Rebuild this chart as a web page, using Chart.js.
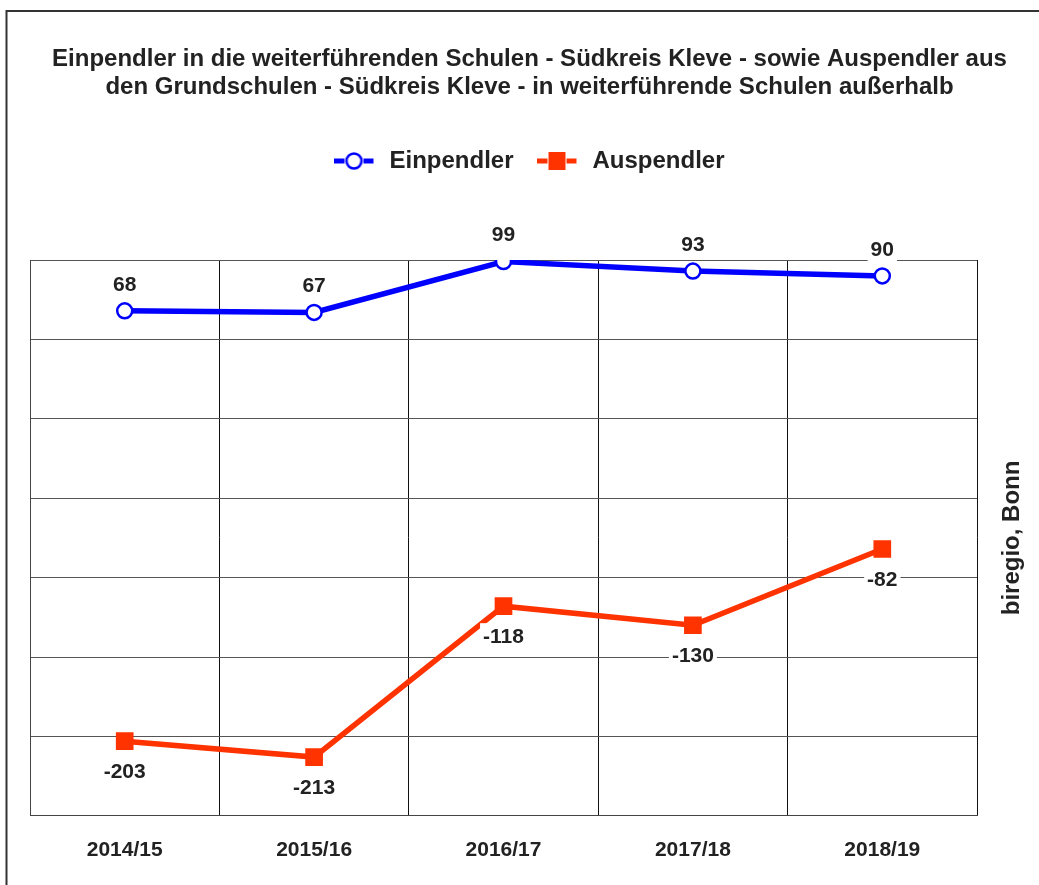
<!DOCTYPE html>
<html>
<head>
<meta charset="utf-8">
<title>Ein- und Auspendler Südkreis Kleve</title>
<script src="https://cdn.jsdelivr.net/npm/chart.js@4.4.1/dist/chart.umd.min.js"></script>
<style>
    html, body { margin: 0; padding: 0; background: #fff; }
    #diagramm { display: block; }
</style>
</head>
<body>
<canvas id="diagramm" width="1039" height="885"></canvas>
<script>
        // ============ DATEN ============
        const schuljahre = ['2014/15', '2015/16', '2016/17', '2017/18', '2018/19'];
        const einpendler = [68, 67, 99, 93, 90];
        const auspendler = [-203, -213, -118, -130, -82];

        const titelZeilen = [
            'Einpendler in die weiterführenden Schulen - Südkreis Kleve - sowie Auspendler aus',
            'den Grundschulen - Südkreis Kleve - in weiterführende Schulen außerhalb'
        ];
        const quelle = 'biregio, Bonn';

        const SCHRIFT = '"Liberation Sans", Arial, Helvetica, sans-serif';
        const BLAU = '#0000ff';
        const ROT = '#ff3300';
        const TEXT = '#222222';

        // ============ LEGENDEN-SYMBOLE (Linie + Marker) ============
        function legendenSymbol(farbe, form) {
            const c = document.createElement('canvas');
            c.width = 43;
            c.height = 20;
            const g = c.getContext('2d');
            g.strokeStyle = farbe;
            g.lineWidth = 5;
            g.beginPath();
            g.moveTo(0, 10); g.lineTo(10, 10);
            g.moveTo(29, 10); g.lineTo(39, 10);
            g.stroke();
            if (form === 'kreis') {
                g.fillStyle = '#fff';
                g.lineWidth = 2.5;
                g.beginPath();
                g.arc(19.5, 10, 7.5, 0, Math.PI * 2);
                g.fill();
                g.stroke();
            } else {
                g.fillStyle = farbe;
                g.fillRect(11, 1, 17, 18);
            }
            return c;
        }
        const symbole = [legendenSymbol(BLAU, 'kreis'), legendenSymbol(ROT, 'quadrat')];

        // ============ PLUGINS ============
        // Rahmen oben und links
        const rahmen = {
            id: 'rahmen',
            beforeDraw(chart) {
                const ctx = chart.ctx;
                ctx.save();
                ctx.fillStyle = '#fff';
                ctx.fillRect(0, 0, chart.width, chart.height);
                ctx.strokeStyle = '#333';
                ctx.lineWidth = 2;
                ctx.beginPath();
                ctx.moveTo(6.5, chart.height);
                ctx.lineTo(6.5, 11);
                ctx.lineTo(chart.width, 11);
                ctx.stroke();
                ctx.restore();
            }
        };

        // mehr Luft zwischen Legende und Diagrammfläche
        const legendenAbstand = {
            id: 'legendenAbstand',
            beforeInit(chart) {
                const fitOrig = chart.legend.fit;
                chart.legend.fit = function fit() {
                    fitOrig.bind(chart.legend)();
                    this.height += 77;
                };
            }
        };

        // Werte an den Punkten, mit weißem Hintergrund
        const wertLabels = {
            id: 'wertLabels',
            afterDatasetsDraw(chart) {
                const ctx = chart.ctx;
                ctx.save();
                ctx.font = 'bold 21px ' + SCHRIFT;
                ctx.textAlign = 'center';
                ctx.textBaseline = 'middle';
                chart.data.datasets.forEach((ds, i) => {
                    const meta = chart.getDatasetMeta(i);
                    meta.data.forEach((pt, j) => {
                        const txt = String(ds.data[j]);
                        const y = pt.y + ds.labelVersatz;
                        const w = ctx.measureText(txt).width;
                        ctx.fillStyle = '#fff';
                        ctx.fillRect(pt.x - w / 2 - 3, y - 13, w + 6, 26);
                        ctx.fillStyle = TEXT;
                        ctx.fillText(txt, pt.x, y + 1);
                    });
                });
                ctx.restore();
            }
        };

        // Quellenangabe senkrecht rechts
        const quellenText = {
            id: 'quellenText',
            afterDraw(chart) {
                const ctx = chart.ctx;
                const area = chart.chartArea;
                ctx.save();
                ctx.translate(1012, area.top + (area.bottom - area.top) / 2);
                ctx.rotate(-Math.PI / 2);
                ctx.font = 'bold 24px ' + SCHRIFT;
                ctx.fillStyle = TEXT;
                ctx.textAlign = 'center';
                ctx.textBaseline = 'middle';
                ctx.fillText(quelle, 0, 0);
                ctx.restore();
            }
        };

        // ============ CHART.JS ============
        const ctx = document.getElementById('diagramm').getContext('2d');
        const chart = new Chart(ctx, {
            type: 'line',
            data: {
                labels: schuljahre,
                datasets: [{
                    label: 'Einpendler',
                    data: einpendler,
                    borderColor: BLAU,
                    borderWidth: 5.5,
                    pointStyle: 'circle',
                    pointRadius: 7.5,
                    pointBorderWidth: 2.5,
                    pointBackgroundColor: '#fff',
                    pointBorderColor: BLAU,
                    tension: 0,
                    labelVersatz: -27
                }, {
                    label: 'Auspendler',
                    data: auspendler,
                    borderColor: ROT,
                    backgroundColor: ROT,
                    borderWidth: 5.5,
                    pointStyle: 'rect',
                    pointRadius: 12.5,
                    pointBorderWidth: 0,
                    pointBackgroundColor: ROT,
                    tension: 0,
                    labelVersatz: 30
                }]
            },
            options: {
                responsive: false,
                animation: false,
                layout: {
                    padding: { top: 45, left: 30, right: 10, bottom: 0 }
                },
                plugins: {
                    title: {
                        display: true,
                        text: titelZeilen,
                        color: TEXT,
                        font: { family: SCHRIFT, size: 24, weight: 'bold', lineHeight: 28 / 24 },
                        padding: { top: 0, bottom: 24 }
                    },
                    legend: {
                        display: true,
                        position: 'top',
                        labels: {
                            usePointStyle: true,
                            pointStyleWidth: 43,
                            boxHeight: 20,
                            padding: 24,
                            color: TEXT,
                            font: { family: SCHRIFT, size: 24, weight: 'bold' },
                            generateLabels(chart) {
                                const items = Chart.defaults.plugins.legend.labels.generateLabels(chart);
                                items.forEach((it, i) => { it.pointStyle = symbole[i]; });
                                return items;
                            }
                        }
                    },
                    tooltip: { enabled: false }
                },
                scales: {
                    x: {
                        offset: true,
                        grid: { color: '#111', lineWidth: 1, drawTicks: false, offset: true },
                        border: { color: '#444', width: 1 },
                        ticks: {
                            color: TEXT,
                            padding: 22,
                            font: { family: SCHRIFT, size: 21, weight: 'bold' }
                        }
                    },
                    y: {
                        min: -250,
                        max: 100,
                        ticks: { stepSize: 50, display: false },
                        grid: { color: '#555', lineWidth: 1, drawTicks: false },
                        border: { color: '#444', width: 1 }
                    },
                    quelle: {
                        position: 'right',
                        display: true,
                        ticks: { display: false },
                        grid: { display: false, drawTicks: false },
                        border: { display: false },
                        afterFit(scale) { scale.width = 52; }
                    }
                }
            },
            plugins: [rahmen, legendenAbstand, wertLabels, quellenText]
        });
</script>
</body>
</html>
